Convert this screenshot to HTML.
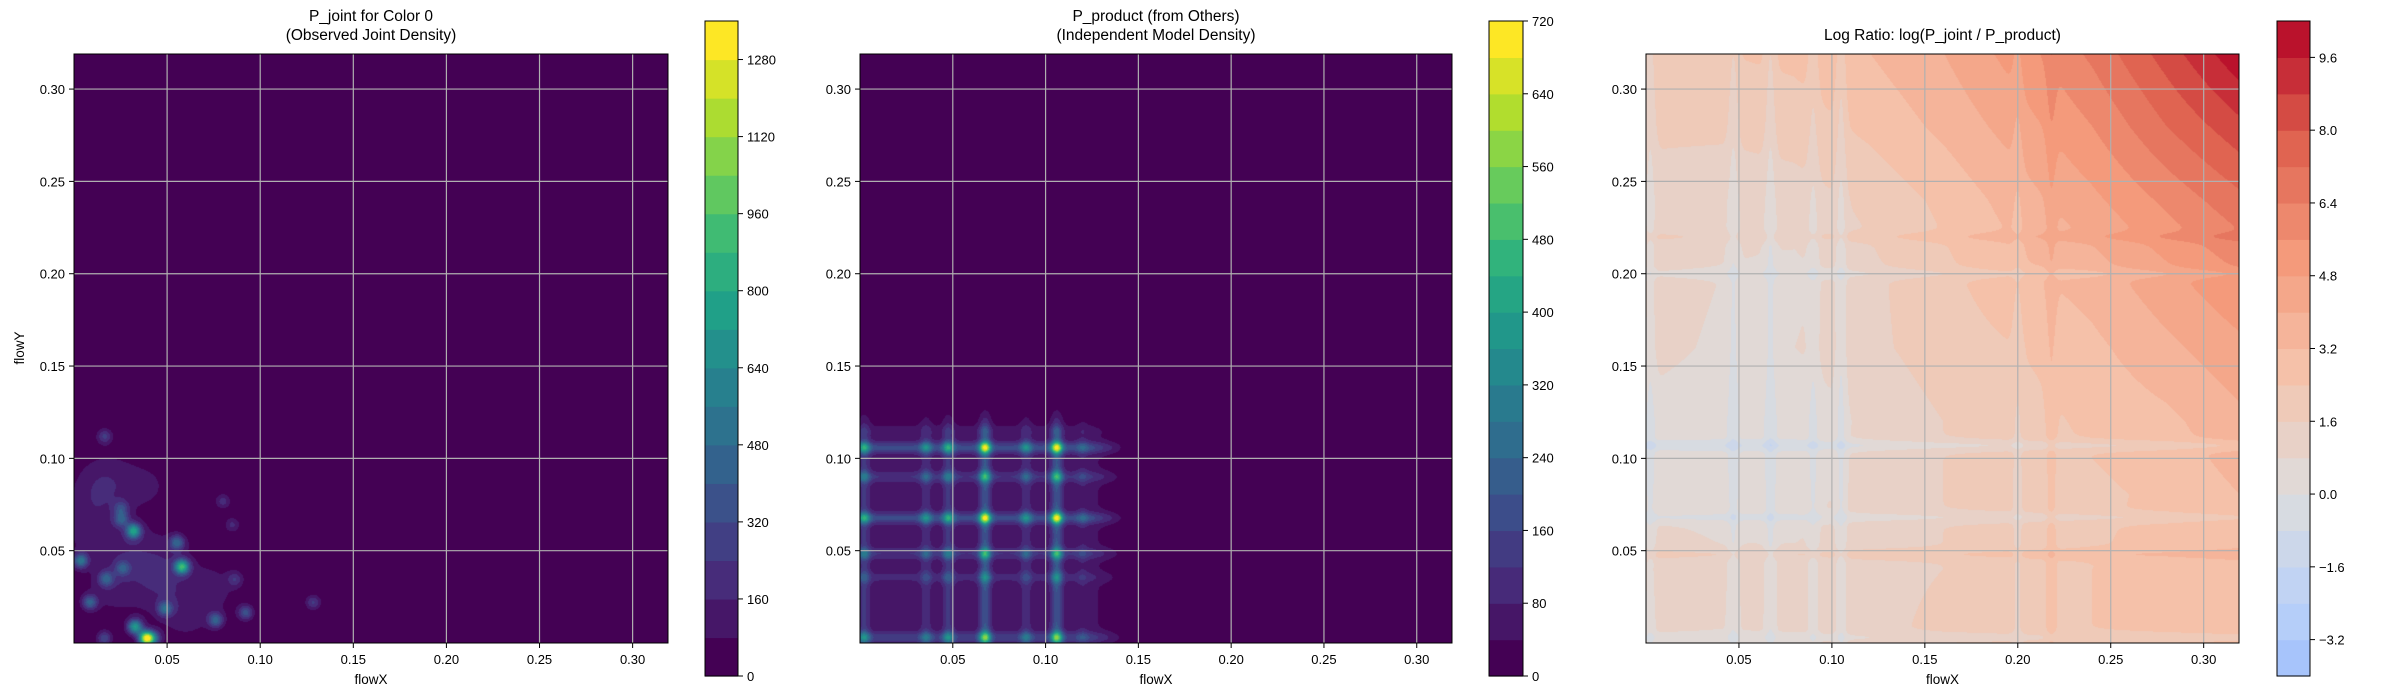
<!DOCTYPE html>
<html><head><meta charset="utf-8">
<style>
html,body{margin:0;padding:0;background:#fff;}
#wrap{position:relative;width:2400px;height:700px;overflow:hidden;font-family:"Liberation Sans",sans-serif;}
canvas{position:absolute;}
svg{position:absolute;left:0;top:0;}
text{font-family:"Liberation Sans",sans-serif;fill:#000;}
</style></head>
<body>
<div id="wrap">
<canvas id="c1" width="594" height="589" style="left:74px;top:54px"></canvas>
<canvas id="c2" width="592" height="589" style="left:860px;top:54px"></canvas>
<canvas id="c3" width="593" height="589" style="left:1646px;top:54px"></canvas>
<svg id="s" width="2400" height="700"></svg>
</div>
<script>
// ---------- DATA ----------
const xTicks = [0.05,0.10,0.15,0.20,0.25,0.30];
const yTicks = [0.05,0.10,0.15,0.20,0.25,0.30];
const axisMin = 0.0, axisMax = 0.319;
// panel 1 blobs: x, y, amplitude
const blobX = [0.039,0.0328,0.032,0.058,0.0036,0.0165,0.0085,0.0254,0.0253,0.0553,0.0489,0.0761,0.0922,0.1285,0.0173,0.0262,0.0163,0.0432,0.080,0.085,0.0864,0.02,0.045,0.012,0.06,0.075,0.03,0.05,0.008,0.018,0.04];
const blobY = [0.0025,0.0088,0.0607,0.0413,0.0446,0.112,0.022,0.067,0.073,0.0544,0.0186,0.0124,0.0164,0.022,0.0347,0.0405,0.0025,0.0025,0.0768,0.064,0.0345,0.03,0.03,0.08,0.015,0.03,0.05,0.045,0.06,0.09,0.085];
const blobAmp = [1300,700,700,800,500,250,400,350,250,400,400,400,350,250,350,300,300,300,200,180,200,110,105,100,100,95,110,95,100,90,85];
const blobWide = [0,0,0,0,0,0,0,0,0,0,0,0,0,0,0,0,0,0,0,0,0,1,1,1,1,1,1,1,1,1,1];
const levels1 = [0,1360,80];
// panel 2 marginals
const fxPeakPos = [0.0023,0.0356,0.0476,0.0674,0.0895,0.106,0.12];
const fxPeakAmp = [10,7,10,19,7,19,3];
const fxBaseX = [0,0.125,0.145], fxBaseV = [6,6,0];
const fyPeakPos = [0.003,0.0355,0.0484,0.0677,0.090,0.1058,0.115];
const fyPeakAmp = [16,7,12,21,12,21,3];
const fyBaseY = [0,0.11,0.13], fyBaseV = [8,8,0];
const levels2 = [0,720,40];
// panel 3 grid (rows from y=0 up, cols x=0..0.32 step 0.04)
const gridStep = 0.04;
const ratioGrid = [
 [1.0,0.8,1.0,1.4,1.8,2.0,2.4,2.6,2.8],
 [1.4,1.0,1.0,1.4,1.6,2.0,2.4,2.6,3.0],
 [0.6,0.4,0.4,1.2,1.6,1.8,2.2,2.6,3.2],
 [0.4,0.2,0.2,1.0,1.6,2.0,2.6,3.0,3.8],
 [1.2,0.6,0.8,1.4,2.0,2.4,3.0,3.8,4.6],
 [1.4,0.8,0.6,1.4,2.2,3.0,3.6,4.6,5.6],
 [1.2,1.0,1.2,1.8,2.6,3.6,4.6,5.8,7.0],
 [1.8,1.8,2.0,2.6,3.4,4.4,5.6,7.2,8.6],
 [2.2,2.4,2.6,3.2,4.0,5.2,6.6,8.4,10.3]];
// stripe dips/bumps in log ratio
const colStripePos = [0.0023,0.047,0.067,0.09,0.105,0.2,0.218];
const colStripeAmp = [-0.8,-0.8,-0.9,-0.7,-1.0,-0.5,0.6];
const rowStripePos = [0.003,0.048,0.068,0.107,0.2,0.22];
const rowStripeAmp = [-0.6,0.7,-0.8,-1.0,-0.6,0.5];
const levels3 = [-4.0,10.4,0.8];
const cb1Ticks=[0,160,320,480,640,800,960,1120,1280];
const cb2Ticks=[0,80,160,240,320,400,480,560,640,720];
const cb3Ticks=[-3.2,-1.6,0,1.6,3.2,4.8,6.4,8.0,9.6];

// ---------- colormaps ----------
const VIR=[[68,1,84],[72,40,120],[62,73,137],[49,104,142],[38,130,142],[31,158,137],[53,183,121],[110,206,88],[181,222,43],[253,231,37]];
const CW=[[59,76,192],[98,130,234],[141,176,254],[184,208,249],[221,221,221],[245,196,173],[244,154,123],[222,96,77],[180,4,38]];
function cmap(a,t){t=Math.max(0,Math.min(1,t));const f=t*(a.length-1),i=Math.min(a.length-2,Math.floor(f)),r=f-i;return a[i].map((v,k)=>Math.round(v+(a[i+1][k]-v)*r));}
function rgb(c){return `rgb(${c[0]},${c[1]},${c[2]})`;}
function bandColors(lv,kind){const n=Math.round((lv[1]-lv[0])/lv[2]);const out=[];for(let i=0;i<n;i++){if(kind==='v')out.push(cmap(VIR,i/(n-1)));else{const mid=lv[0]+(i+0.5)*lv[2];out.push(cmap(CW,(mid+10.4)/20.8));}}return out;}
const bc1=bandColors(levels1,'v'),bc2=bandColors(levels2,'v'),bc3=bandColors(levels3,'c');

function interp(xs,vs,x){if(x<=xs[0])return vs[0];for(let i=1;i<xs.length;i++){if(x<=xs[i]){const r=(x-xs[i-1])/(xs[i]-xs[i-1]);return vs[i-1]+(vs[i]-vs[i-1])*r;}}return vs[vs.length-1];}
function g(d,s){return Math.exp(-d*d/(2*s*s));}
function fx(x){let v=interp(fxBaseX,fxBaseV,x);for(let i=0;i<fxPeakPos.length;i++)v+=fxPeakAmp[i]*g(x-fxPeakPos[i],0.0022);return v;}
function fy(y){let v=interp(fyBaseY,fyBaseV,y);for(let i=0;i<fyPeakPos.length;i++)v+=fyPeakAmp[i]*g(y-fyPeakPos[i],0.0022);return v;}
function p1(x,y){let v=0;for(let i=0;i<blobX.length;i++){const s=blobWide[i]?0.011:0.0028;v+=blobAmp[i]*Math.exp(-(Math.pow(x-blobX[i],2)+Math.pow(y-blobY[i],2))/(2*s*s));}return v;}
function p3(x,y){const n=ratioGrid.length-1;let gx=Math.min(n-1e-6,x/gridStep),gy=Math.min(n-1e-6,y/gridStep);const i=Math.floor(gx),j=Math.floor(gy),rx=gx-i,ry=gy-j;const G=ratioGrid;
 let v=G[j][i]*(1-rx)*(1-ry)+G[j][i+1]*rx*(1-ry)+G[j+1][i]*(1-rx)*ry+G[j+1][i+1]*rx*ry;
 for(let k=0;k<colStripePos.length;k++)v+=colStripeAmp[k]*g(x-colStripePos[k],0.002);
 for(let k=0;k<rowStripePos.length;k++)v+=rowStripeAmp[k]*g(y-rowStripePos[k],0.002);
 return v;}

function paint(id,fn,lv,bc){const c=document.getElementById(id),ctx=c.getContext('2d'),W=c.width,H=c.height;const img=ctx.createImageData(W,H);
 for(let py=0;py<H;py++){const y=axisMax-(py+0.5)/H*(axisMax-axisMin);for(let px=0;px<W;px++){const x=axisMin+(px+0.5)/W*(axisMax-axisMin);const v=fn(x,y);let b=Math.floor((v-lv[0])/lv[2]);b=Math.max(0,Math.min(bc.length-1,b));const col=bc[b],k=(py*W+px)*4;img.data[k]=col[0];img.data[k+1]=col[1];img.data[k+2]=col[2];img.data[k+3]=255;}}
 ctx.putImageData(img,0,0);}
paint('c1',p1,levels1,bc1);
paint('c2',(x,y)=>fx(x)*fy(y),levels2,bc2);
paint('c3',p3,levels3,bc3);

// ---------- overlay ----------
const S=document.getElementById('s');const NS='http://www.w3.org/2000/svg';
function el(tag,attrs,txt){const e=document.createElementNS(NS,tag);for(const k in attrs)e.setAttribute(k,attrs[k]);if(txt!==undefined)e.textContent=txt;S.appendChild(e);return e;}
const T=54,B=643;
const panels=[{L:74,R:668,title:['P_joint for Color 0','(Observed Joint Density)'],ylab:true,cb:[705,738],lv:levels1,bc:bc1,ticks:cb1Ticks,n:'joint'},
 {L:860,R:1452,title:['P_product (from Others)','(Independent Model Density)'],ylab:false,cb:[1489,1523],lv:levels2,bc:bc2,ticks:cb2Ticks,n:'product'},
 {L:1646,R:2239,title:['Log Ratio: log(P_joint / P_product)'],ylab:false,cb:[2277,2310],lv:levels3,bc:bc3,ticks:cb3Ticks,n:'log-ratio'}];
function fmtTick(v){return v.toFixed(2);}
function fmtCb(v,lv){if(lv[2]<1){const s=v.toFixed(1);return s.replace('-','\u2212');}return String(v);}
panels.forEach(p=>{
 const sx=v=>p.L+(v-axisMin)/(axisMax-axisMin)*(p.R-p.L);
 const sy=v=>B-(v-axisMin)/(axisMax-axisMin)*(B-T);
 xTicks.forEach(v=>{const x=sx(v);
  let e=el('line',{x1:x,x2:x,y1:T,y2:B,stroke:'#b0b0b0','stroke-width':1.2});
  e=el('line',{x1:x,x2:x,y1:B,y2:B+5,stroke:'#000','stroke-width':1});
  e=el('text',{x:x,y:B+21,'font-size':13,'text-anchor':'middle'},fmtTick(v));});
 yTicks.forEach(v=>{const y=sy(v);
  let e=el('line',{x1:p.L,x2:p.R,y1:y,y2:y,stroke:'#b0b0b0','stroke-width':1.2});
  e=el('line',{x1:p.L-5,x2:p.L,y1:y,y2:y,stroke:'#000','stroke-width':1});
  e=el('text',{x:p.L-9,y:y+5,'font-size':13,'text-anchor':'end'},fmtTick(v));});
 let e=el('rect',{x:p.L,y:T,width:p.R-p.L,height:B-T,fill:'none',stroke:'#000','stroke-width':1});
 
 const cx=(p.L+p.R)/2;
 p.title.forEach((t,i)=>{const yy=p.title.length===1?40:21+i*19;const tt=el('text',{x:cx,y:yy,'font-size':15.5,'text-anchor':'middle'},t);
  });
 e=el('text',{x:cx,y:684,'font-size':13.5,'text-anchor':'middle'},'flowX');
 
 if(p.ylab){e=el('text',{x:24,y:348,'font-size':13.5,'text-anchor':'middle',transform:'rotate(-90 24 348)'},'flowY');
  }
 const cT=21,cB=676,[c0,c1]=p.cb,lv=p.lv;
 const cy=v=>cB-(v-lv[0])/(lv[1]-lv[0])*(cB-cT);
 p.bc.forEach((col,i)=>{const v0=lv[0]+i*lv[2],v1=v0+lv[2];
  const r=el('rect',{x:c0,y:cy(v1),width:c1-c0,height:cy(v0)-cy(v1)+0.6,fill:rgb(col)});
  });
 e=el('rect',{x:c0,y:cT,width:c1-c0,height:cB-cT,fill:'none',stroke:'#000','stroke-width':1});
 
 p.ticks.forEach(v=>{const y=cy(v);
  let t=el('line',{x1:c1,x2:c1+5,y1:y,y2:y,stroke:'#000','stroke-width':1});
  t=el('text',{x:c1+9,y:y+5,'font-size':13},fmtCb(v,lv));});
});
</script>
</body></html>
